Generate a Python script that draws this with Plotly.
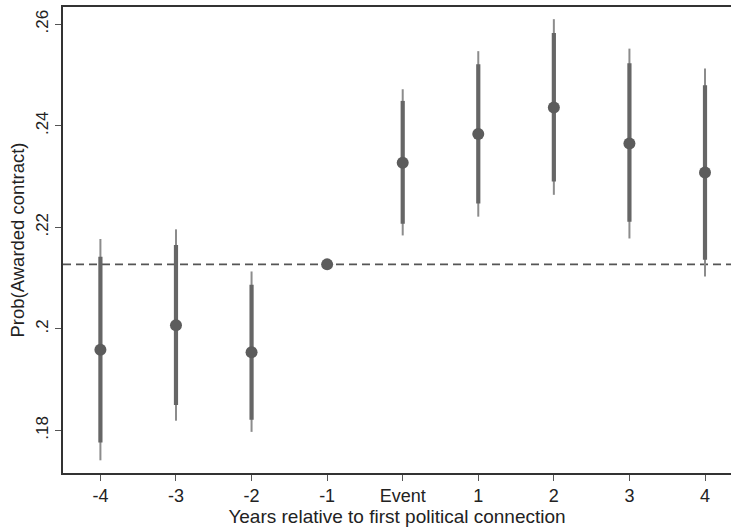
import plotly.graph_objects as go

# Data
periods = [-4, -3, -2, -1, 0, 1, 2, 3, 4]
period_labels = ["-4", "-3", "-2", "-1", "Event", "1", "2", "3", "4"]
estimates = [0.1959, 0.2007, 0.1954, 0.2127, 0.2327, 0.2384, 0.2436, 0.2365, 0.2308]
ci95_hi = [0.2177, 0.2196, 0.2113, 0.2127, 0.2472, 0.2547, 0.2610, 0.2552, 0.2513]
ci95_lo = [0.1741, 0.1819, 0.1797, 0.2127, 0.2184, 0.2221, 0.2264, 0.2178, 0.2103]
ci90_hi = [0.2142, 0.2165, 0.2087, 0.2127, 0.2449, 0.2521, 0.2583, 0.2523, 0.2480]
ci90_lo = [0.1776, 0.1850, 0.1821, 0.2127, 0.2207, 0.2247, 0.2290, 0.2211, 0.2136]
baseline = 0.2127
y_tickvals = [0.18, 0.20, 0.22, 0.24, 0.26]
y_ticktext = [".18", ".2", ".22", ".24", ".26"]

FONT = "Liberation Sans, Arial, sans-serif"

fig = go.Figure()

# 95% CI (thin, lighter)
fig.add_trace(go.Scatter(
    x=periods, y=estimates, mode="markers",
    marker=dict(size=0.1, color="rgba(0,0,0,0)"),
    error_y=dict(type="data", symmetric=False,
                 array=[h - e for h, e in zip(ci95_hi, estimates)],
                 arrayminus=[e - l for e, l in zip(estimates, ci95_lo)],
                 width=0, thickness=2, color="#8c8c8c"),
    showlegend=False, hoverinfo="skip"))

# 90% CI (thick, darker)
fig.add_trace(go.Scatter(
    x=periods, y=estimates, mode="markers",
    marker=dict(size=0.1, color="rgba(0,0,0,0)"),
    error_y=dict(type="data", symmetric=False,
                 array=[h - e for h, e in zip(ci90_hi, estimates)],
                 arrayminus=[e - l for e, l in zip(estimates, ci90_lo)],
                 width=0, thickness=4.2, color="#666666"),
    showlegend=False, hoverinfo="skip"))

# Point estimates
fig.add_trace(go.Scatter(
    x=periods, y=estimates, mode="markers",
    marker=dict(size=12, color="#5c5c5c", line=dict(width=0)),
    showlegend=False))

fig.add_shape(type="line", xref="paper", x0=0, x1=1, yref="y", y0=baseline, y1=baseline,
              line=dict(color="#555555", width=1.8, dash="8px,5px"), layer="below")

fig.update_layout(
    width=731, height=530,
    margin=dict(l=63, r=0, t=7, b=57),
    paper_bgcolor="white", plot_bgcolor="white",
    font=dict(family=FONT, color="#222222"),
    xaxis=dict(
        range=[-4.495, 4.344], tickmode="array", tickvals=periods, ticktext=period_labels,
        showgrid=False, zeroline=False, showline=True, mirror=True,
        linecolor="#333333", linewidth=1.5,
        ticks="outside", ticklen=6, tickwidth=1.3, tickcolor="#555555",
        tickfont=dict(size=18, family=FONT, color="#222222"),
        title=dict(text="Years relative to first political connection", standoff=0,
                   font=dict(size=19, family=FONT, color="#222222")),
        automargin=False),
    yaxis=dict(
        range=[0.1716, 0.2634], tickmode="array", tickvals=y_tickvals, ticktext=y_ticktext,
        showgrid=False, zeroline=False, showline=True, mirror=False,
        linecolor="#333333", linewidth=1.5,
        ticks="outside", ticklen=6, tickwidth=1.3, tickcolor="#555555",
        tickangle=-90,
        tickfont=dict(size=17, family=FONT, color="#222222"),
        title=dict(text="Prob(Awarded contract)", standoff=4,
                   font=dict(size=18.5, family=FONT, color="#222222")),
        automargin=False),
)

fig.write_html("out.html")
